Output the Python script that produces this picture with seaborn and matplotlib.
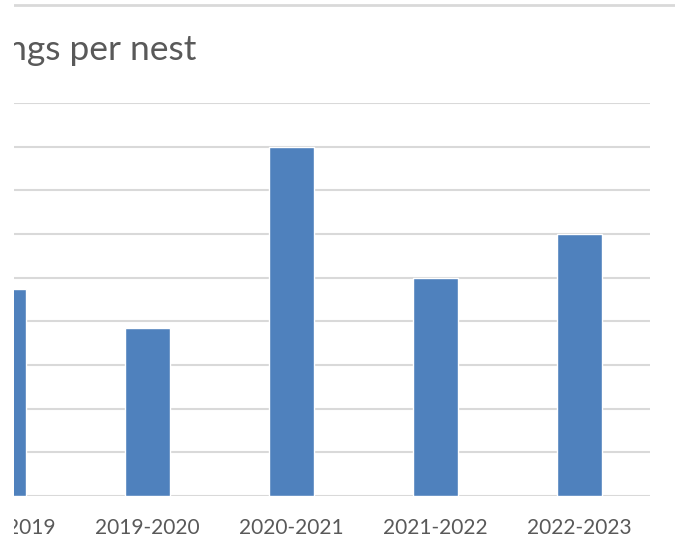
import matplotlib
matplotlib.use("Agg")
import matplotlib.pyplot as plt
from matplotlib.lines import Line2D
from matplotlib.patches import Rectangle
import seaborn as sns
import pandas as pd

# data
seasons = ["2018-2019", "2019-2020", "2020-2021", "2021-2022", "2022-2023"]
fledglings = [0.95, 0.77, 1.6, 1.0, 1.2]
y_ticks = [0.0, 0.2, 0.4, 0.6, 0.8, 1.0, 1.2, 1.4, 1.6, 1.8]

sns.set_theme(style="white")
plt.rcParams['font.family'] = ['Lato', 'DejaVu Sans']

df = pd.DataFrame({"Season": seasons, "Fledglings": fledglings})

W, H = 675, 557
TICK_PAD = 16
TICK_SIZE = 15

fig = plt.figure(figsize=(W / 100, H / 100), dpi=100)
ax = fig.add_axes([14 / W, 1 - 496 / H, (650 - 14) / W, (496 - 103) / H])

sns.barplot(data=df, x="Season", y="Fledglings", color="#4f81bd",
            width=0.3125, saturation=1, ax=ax, zorder=3)

ax.set_ylim(0, 1.8)
ax.set_yticks(y_ticks)
ax.set_yticklabels([])
ax.set_xlim(0.073, 4.49)
ax.yaxis.grid(True, color="#d9d9d9", linewidth=1.5, zorder=0)
ax.set_axisbelow(True)
for s in ax.spines.values():
    s.set_visible(False)
ax.set_xlabel("")
ax.set_ylabel("")
ax.tick_params(axis="x", length=0, pad=TICK_PAD, labelsize=TICK_SIZE, labelcolor="#595959")
ax.tick_params(axis="y", length=0)

# the first category's tick falls outside the view, so label it by hand
ax.annotate(seasons[0], xy=(0, 0), xycoords=("data", "axes fraction"),
            xytext=(0, -TICK_PAD), textcoords="offset points",
            ha="center", va="top", fontsize=TICK_SIZE, color="#595959",
            annotation_clip=False)

# title
fig.text(196 / W, 1 - 50 / H, "Fledglings per nest", ha="right", va="center",
         fontsize=25.5, color="#595959")

# thin border line at the top
fig.add_artist(Line2D([13 / W, 1], [1 - 5 / H, 1 - 5 / H], color="#d9d9d9", linewidth=2))

# the reference view is cut off on the left
fig.add_artist(Rectangle((0, 0), 14 / W, 1, transform=fig.transFigure,
                         facecolor="white", edgecolor="none", zorder=20))

fig.savefig("out.png", dpi=100)
